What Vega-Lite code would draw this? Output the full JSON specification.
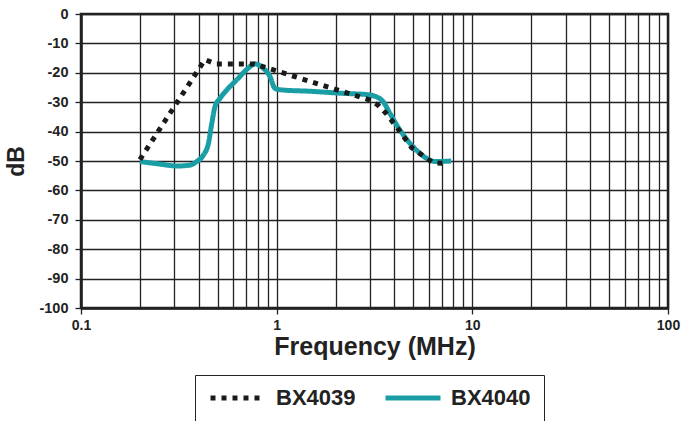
{
  "$schema": "https://vega.github.io/schema/vega-lite/v6.json",
  "autosize": "none",
  "width": 587,
  "height": 294,
  "padding": {"left": 81, "top": 14, "right": 15, "bottom": 113},
  "background": "white",
  "config": {
    "font": "Liberation Sans",
    "view": {"stroke": "#222", "strokeWidth": 2.5},
    "axis": {
      "labelFont": "Liberation Sans",
      "labelFontWeight": "bold",
      "labelFontSize": 14,
      "labelColor": "#222",
      "titleFont": "Liberation Sans",
      "titleFontWeight": "bold",
      "titleColor": "#222",
      "domainColor": "#222",
      "domainWidth": 2.5,
      "gridColor": "#222",
      "gridWidth": 1.3,
      "gridOpacity": 1,
      "tickColor": "#222",
      "tickWidth": 1.3,
      "tickSize": 6
    }
  },
  "data": {
    "values": [
      {"series": "BX4039", "freq": 0.2, "db": -49.5},
      {"series": "BX4039", "freq": 0.43, "db": -15.5},
      {"series": "BX4039", "freq": 0.49, "db": -17},
      {"series": "BX4039", "freq": 0.77, "db": -17},
      {"series": "BX4039", "freq": 3.0, "db": -29.3},
      {"series": "BX4039", "freq": 3.3, "db": -31},
      {"series": "BX4039", "freq": 3.65, "db": -34},
      {"series": "BX4039", "freq": 4.27, "db": -40},
      {"series": "BX4039", "freq": 4.9, "db": -45.5},
      {"series": "BX4039", "freq": 6.3, "db": -50.6},
      {"series": "BX4039", "freq": 7.25, "db": -50.8},
      {"series": "BX4040", "freq": 0.2, "db": -50.2},
      {"series": "BX4040", "freq": 0.25, "db": -51},
      {"series": "BX4040", "freq": 0.31, "db": -51.7},
      {"series": "BX4040", "freq": 0.36, "db": -51.4},
      {"series": "BX4040", "freq": 0.39, "db": -50.2},
      {"series": "BX4040", "freq": 0.422, "db": -48},
      {"series": "BX4040", "freq": 0.448, "db": -44},
      {"series": "BX4040", "freq": 0.466, "db": -37.2},
      {"series": "BX4040", "freq": 0.484, "db": -31.5},
      {"series": "BX4040", "freq": 0.513, "db": -28.7},
      {"series": "BX4040", "freq": 0.555, "db": -25.9},
      {"series": "BX4040", "freq": 0.625, "db": -22.4},
      {"series": "BX4040", "freq": 0.7, "db": -19},
      {"series": "BX4040", "freq": 0.775, "db": -17},
      {"series": "BX4040", "freq": 0.855, "db": -18.5},
      {"series": "BX4040", "freq": 0.925, "db": -21.3},
      {"series": "BX4040", "freq": 0.98, "db": -25.3},
      {"series": "BX4040", "freq": 1.05, "db": -25.8},
      {"series": "BX4040", "freq": 1.5, "db": -26.3},
      {"series": "BX4040", "freq": 2.2, "db": -27},
      {"series": "BX4040", "freq": 2.88, "db": -27.4},
      {"series": "BX4040", "freq": 3.24, "db": -28.2},
      {"series": "BX4040", "freq": 3.5, "db": -29.8},
      {"series": "BX4040", "freq": 3.79, "db": -33.8},
      {"series": "BX4040", "freq": 4.27, "db": -39.5},
      {"series": "BX4040", "freq": 4.8, "db": -44},
      {"series": "BX4040", "freq": 5.4, "db": -47.4},
      {"series": "BX4040", "freq": 6.07, "db": -49.7},
      {"series": "BX4040", "freq": 6.5, "db": -50.2},
      {"series": "BX4040", "freq": 7.8, "db": -50}
    ]
  },
  "encoding": {
    "x": {
      "field": "freq",
      "type": "quantitative",
      "scale": {"type": "log", "domain": [0.1, 100], "nice": false},
      "axis": {
        "title": "Frequency (MHz)",
        "titleFontSize": 25,
        "titlePadding": 2,
        "labelPadding": 4,
        "values": [0.1, 0.2, 0.3, 0.4, 0.5, 0.6, 0.7, 0.8, 0.9, 1, 2, 3, 4, 5, 6, 7, 8, 9, 10, 20, 30, 40, 50, 60, 70, 80, 90, 100],
        "format": "~g",
        "labelExpr": "indexof([0.1, 1, 10, 100], datum.value) >= 0 ? datum.label : ''",
        "tickColor": {"condition": {"test": "indexof([0.1, 1, 10, 100], datum.value) >= 0", "value": "#222"}, "value": "transparent"},
        "labelFlush": false,
        "labelOverlap": false
      }
    },
    "y": {
      "field": "db",
      "type": "quantitative",
      "scale": {"domain": [-100, 0], "nice": false},
      "axis": {
        "title": "dB",
        "titleFontSize": 23,
        "titlePadding": 10,
        "labelPadding": 7,
        "labelFontSize": 14.5,
        "values": [-100, -90, -80, -70, -60, -50, -40, -30, -20, -10, 0],
        "labelExpr": "toString(datum.value)",
        "labelFlush": false,
        "labelOverlap": false
      }
    },
    "color": {
      "field": "series",
      "type": "nominal",
      "scale": {"domain": ["BX4039", "BX4040"], "range": ["#1a1a1a", "#1a9ea6"]},
      "legend": {
        "title": null,
        "orient": "none",
        "legendX": 114,
        "legendY": 361,
        "direction": "horizontal",
        "strokeColor": "#222",
        "padding": 13,
        "symbolType": "stroke",
        "symbolSize": 3025,
        "symbolStrokeWidth": 5,
        "clipHeight": 20,
        "labelFont": "Liberation Sans",
        "labelFontSize": 22,
        "labelFontWeight": "bold",
        "labelColor": "#222",
        "labelOffset": 8,
        "columnPadding": 27,
        "labelExpr": "datum.label == 'BX4040' ? datum.label + '\u00a0\u00a0\u00a0\u00a0\u00a0\u00a0' : datum.label"
      }
    },
    "strokeDash": {
      "field": "series",
      "type": "nominal",
      "scale": {"domain": ["BX4039", "BX4040"], "range": [[5, 6], [1, 0]]},
      "legend": null
    }
  },
  "layer": [
    {
      "transform": [{"filter": "datum.series == 'BX4040'"}],
      "mark": {"type": "line", "strokeWidth": 5, "interpolate": "monotone", "clip": true}
    },
    {
      "transform": [{"filter": "datum.series == 'BX4039'"}],
      "mark": {"type": "line", "strokeWidth": 5, "strokeCap": "butt", "clip": true}
    }
  ]
}
